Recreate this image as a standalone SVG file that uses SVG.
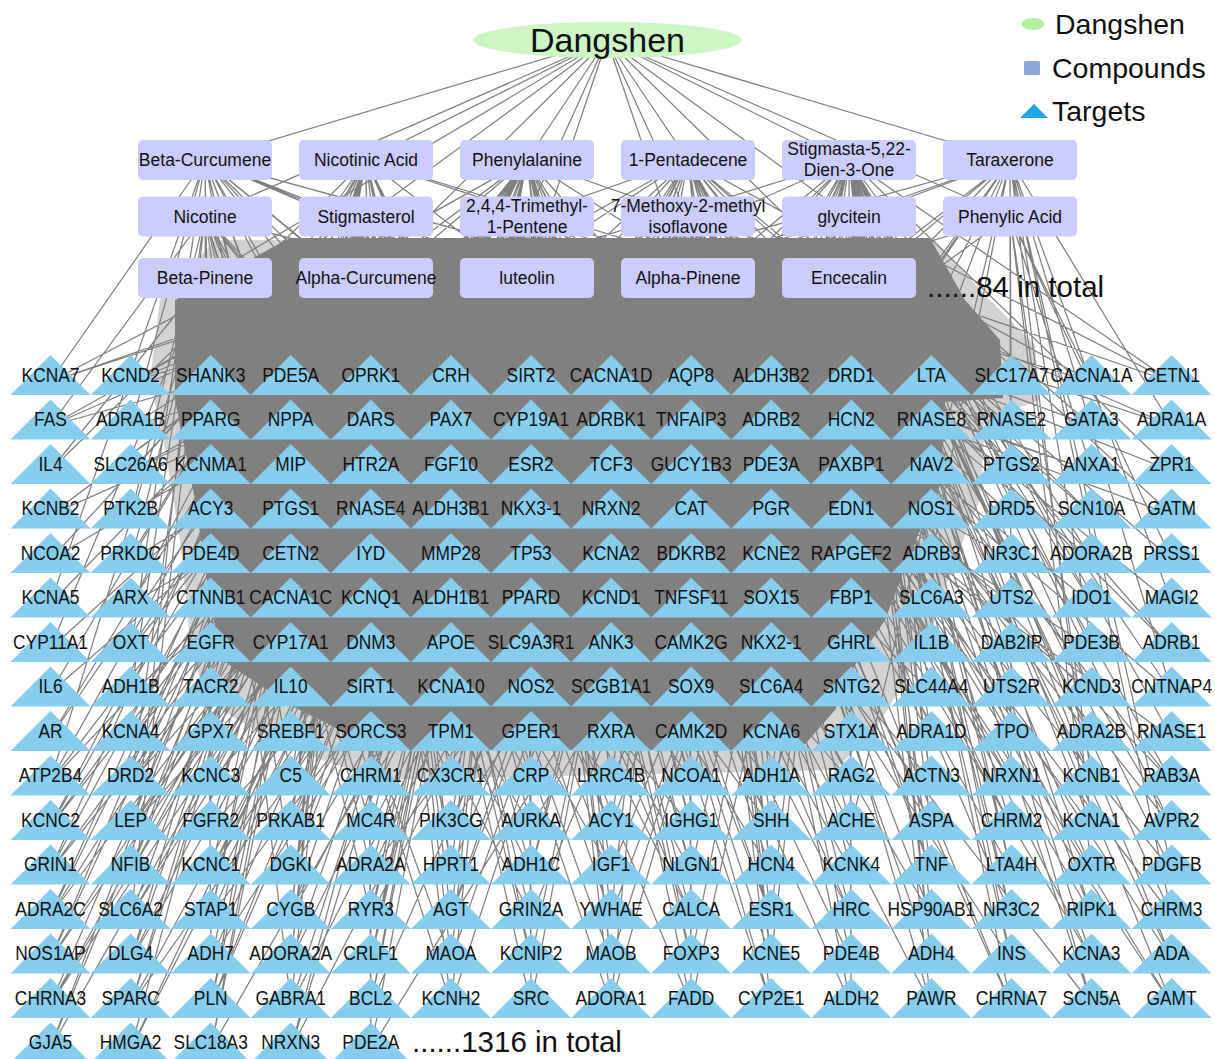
<svg xmlns="http://www.w3.org/2000/svg" xmlns:xlink="http://www.w3.org/1999/xlink" width="1215" height="1059" viewBox="0 0 1215 1059">
<defs>
<style>
text{font-family:"Liberation Sans",Arial,sans-serif;fill:#111}
.e{stroke:#808080;stroke-width:1.25;fill:none}
.core{fill:#808080}
.halo{fill:#808080;fill-opacity:.35}
.cp rect{fill:#ccccff}
.cp text{font-size:17.5px;text-anchor:middle}
.tg use{fill:#87cdee}
.tg text{font-size:19.5px;text-anchor:middle;transform:scaleX(.89)}
.big{font-size:29.5px}
.leg text{font-size:28.5px}
</style>
<path id="tri" d="M0 0L40 40H-40Z"/>
</defs>
<rect width="1215" height="1059" fill="#fff"/>
<g id="connectors">
<path class="halo" d="M160 300L215 240L935 240L985 295L1035 345L1040 400L985 420L980 500L955 560L935 620L905 680L875 730L835 770L380 780L280 745L205 700L190 640L180 540L165 450L150 380Z"/>
<path class="core" d="M175 300L290 238L930 238L965 300L1000 340L1003 398L945 402L940 485L920 530L900 580L885 620L855 665L835 710L800 750L380 750L290 705L222 660L210 600L195 500L175 400Z"/>
<path class="e" d="M607 40L205 160M607 40L366 160M607 40L527 160M607 40L688 160M607 40L849 160M607 40L1010 160M607 40L205 216M607 40L366 216M607 40L527 216M607 40L688 216M607 40L849 216M607 40L1010 216M607 40L205 278M607 40L366 278M607 40L527 278M607 40L688 278M607 40L849 278"/>
<path class="e" d="M205 160L50 382M366 216L50 382M366 278L50 382M527 160L131 382M527 216L131 382M366 160L211 382M527 278L211 382
M205 216L50 426M527 216L50 426M205 160L131 426M366 278L131 426M527 160L211 426M688 216L211 426
M205 278L50 471M366 160L50 471M366 216L131 471M527 278L131 471M366 278L211 471M688 160L211 471
M366 278L50 515M527 160L50 515M205 216L131 515M527 216L131 515M366 160L211 515M688 278L211 515
M366 216L50 560M527 278L50 560M205 278L131 560M688 216L131 560M527 278L211 560M527 160L211 560
M205 160L50 604M366 278L50 604M366 160L131 604M688 278L131 604M527 216L211 604M688 160L211 604
M527 216L50 649M205 278L50 649M366 278L131 649M527 160L131 649M366 216L211 649M688 278L211 649
M527 278L50 693M366 160L50 693M205 216L131 693M688 216L131 693M366 278L211 693M849 160L211 693
M366 278L50 738M366 216L50 738M527 278L131 738M527 160L131 738M205 278L211 738M527 216L211 738
M849 216L931 382M688 278L931 382M1010 160L1011 382M849 160L1011 382M688 160L1092 382M1010 216L1092 382M849 216L1172 382M849 160L1172 382
M849 278L931 426M688 216L931 426M1010 216L1011 426M688 160L1011 426M849 216L1092 426M527 216L1092 426M1010 160L1172 426M688 216L1172 426
M849 160L931 471M688 278L931 471M849 278L1011 471M527 160L1011 471M1010 216L1092 471M527 278L1092 471M849 160L1172 471M688 278L1172 471
M849 216L931 515M527 216L931 515M688 216L1011 515M1010 160L1011 515M849 278L1092 515M688 160L1092 515M849 216L1172 515M527 278L1172 515
M688 278L931 560M849 160L931 560M849 216L1011 560M527 278L1011 560M688 216L1092 560M849 160L1092 560M1010 216L1172 560M849 278L1172 560
M849 278L931 604M688 160L931 604M849 160L1011 604M527 216L1011 604M849 216L1092 604M688 278L1092 604M688 216L1172 604M1010 160L1172 604
M688 216L931 649M849 216L931 649M688 278L1011 649M1010 216L1011 649M527 278L1092 649M849 160L1092 649M849 278L1172 649M688 160L1172 649
M527 278L931 693M849 278L931 693M849 216L1011 693M688 216L1011 693M849 160L1092 693M527 216L1092 693M688 278L1172 693M849 216L1172 693
M849 160L931 738M688 278L931 738M688 160L1011 738M849 278L1011 738M688 216L1092 738M849 216L1092 738M527 278L1172 738M849 160L1172 738
M205 160L291 649M849 278L371 649M205 216L451 649M1010 160L531 649M366 160L611 649M205 278L691 649M527 160L771 649M366 216L851 649
M688 216L291 693M849 160L371 693M366 278L451 693M849 216L531 693M205 216L611 693M527 278L691 693M527 216L771 693M205 160L851 693
M1010 216L291 738M366 160L371 738M688 278L451 738M366 216L531 738M1010 160L611 738M205 216L691 738M366 278L771 738M688 160L851 738
M205 160L291 515M205 160L371 604M205 160L451 471M205 160L131 649M205 160L211 560M205 160L531 426M205 160L611 560M205 160L691 693
M366 160L211 649M366 160L291 471M366 160L451 604M366 160L531 515M366 160L611 693M366 160L131 560M366 160L771 471M366 160L371 515
M527 160L371 471M527 160L451 560M527 160L611 515M527 160L691 649M527 160L291 604M527 160L771 560M527 160L851 515M527 160L211 693
M688 160L531 560M688 160L611 426M688 160L771 649M688 160L851 604M688 160L451 515M688 160L931 471M688 160L371 693M688 160L1011 560
M849 160L691 515M849 160L771 426M849 160L931 649M849 160L611 604M849 160L1011 471M849 160L531 693M849 160L1092 604M849 160L451 560
M1010 160L851 471M1010 160L931 560M1010 160L771 515M1010 160L1092 649M1010 160L691 604M1010 160L611 471M1010 160L1172 693M1010 160L531 560
M366 216L50 782M527 278L50 782M527 160L50 782M205 278L131 782M527 216L131 782M688 160L131 782M205 160L211 782M366 278L211 782M688 216L211 782M527 278L291 782M205 216L291 782M527 160L291 782M527 216L371 782M366 160L371 782M688 278L371 782M366 278L451 782M688 160L451 782M205 216L451 782M366 216L531 782M688 278L531 782M205 160L531 782M527 160L611 782M205 278L611 782M849 216L611 782M527 278L691 782M849 160L691 782M527 216L691 782M688 216L771 782M366 278L771 782M1010 160L771 782M849 278L851 782M527 160L851 782M366 216L851 782M849 216L931 782M527 278L931 782M849 160L931 782M688 278L1011 782M1010 160L1011 782M688 216L1011 782M849 160L1092 782M1010 216L1092 782M849 278L1092 782M849 216L1172 782M688 160L1172 782M688 278L1172 782
M366 278L50 827M527 160L50 827M527 216L50 827M366 160L131 827M527 278L131 827M688 216L131 827M205 216L211 827M688 278L211 827M527 160L211 827M366 216L291 827M688 160L291 827M366 278L291 827M205 278L371 827M688 216L371 827M527 160L371 827M205 160L451 827M527 278L451 827M849 216L451 827M527 216L531 827M366 160L531 827M849 278L531 827M366 278L611 827M849 160L611 827M366 216L611 827M527 160L691 827M205 216L691 827M688 278L691 827M527 278L771 827M688 160L771 827M849 216L771 827M688 216L851 827M527 216L851 827M1010 160L851 827M688 278L931 827M849 160L931 827M527 160L931 827M849 278L1011 827M688 216L1011 827M688 160L1011 827M849 216L1092 827M1010 160L1092 827M688 278L1092 827M849 160L1172 827M849 278L1172 827M688 216L1172 827
M527 216L50 871M366 160L50 871M527 278L50 871M366 278L131 871M527 160L131 871M205 216L131 871M366 216L211 871M527 278L211 871M688 160L211 871M527 160L291 871M205 278L291 871M688 216L291 871M527 278L371 871M205 160L371 871M849 216L371 871M366 160L451 871M688 278L451 871M527 216L451 871M205 216L531 871M688 216L531 871M366 278L531 871M849 278L611 871M205 160L611 871M527 278L611 871M527 216L691 871M366 278L691 871M849 160L691 871M688 278L771 871M366 216L771 871M527 160L771 871M849 160L851 871M527 278L851 871M688 216L851 871M688 216L931 871M849 278L931 871M688 160L931 871M849 216L1011 871M849 160L1011 871M688 278L1011 871M849 278L1092 871M688 160L1092 871M1010 216L1092 871M688 278L1172 871M1010 160L1172 871M849 216L1172 871
M527 278L50 916M366 216L50 916M527 160L50 916M527 216L131 916M205 278L131 916M366 278L131 916M366 160L211 916M688 278L211 916M366 216L211 916M366 278L291 916M527 216L291 916M688 160L291 916M205 216L371 916M527 160L371 916M688 278L371 916M688 216L451 916M527 278L451 916M366 216L451 916M205 278L531 916M849 160L531 916M527 216L531 916M366 216L611 916M849 278L611 916M527 160L611 916M366 278L691 916M688 216L691 916M366 160L691 916M527 278L771 916M849 216L771 916M527 216L771 916M527 160L851 916M688 278L851 916M527 278L851 916M688 278L931 916M527 216L931 916M849 160L931 916M688 160L1011 916M849 278L1011 916M849 216L1011 916M849 160L1092 916M688 216L1092 916M849 278L1092 916M849 216L1172 916M688 278L1172 916M1010 160L1172 916
M366 216L50 960M527 216L50 960M366 278L50 960M527 278L131 960M527 160L131 960M366 160L131 960M688 216L211 960M366 278L211 960M205 216L211 960M527 278L291 960M366 216L291 960M688 160L291 960M527 160L371 960M366 278L371 960M527 216L371 960M688 278L451 960M205 278L451 960M366 216L451 960M366 160L531 960M527 278L531 960M688 216L531 960M527 216L611 960M849 216L611 960M366 278L611 960M849 160L691 960M527 278L691 960M527 160L691 960M527 216L771 960M688 278L771 960M688 160L771 960M527 278L851 960M849 278L851 960M688 216L851 960M688 278L931 960M849 216L931 960M849 160L931 960M849 278L1011 960M527 216L1011 960M849 160L1011 960M688 278L1092 960M849 216L1092 960M688 160L1092 960M849 278L1172 960M849 160L1172 960M688 216L1172 960
M366 278L50 1005M527 216L50 1005M527 160L50 1005M366 216L131 1005M527 278L131 1005M688 216L131 1005M527 216L211 1005M366 278L211 1005M366 160L211 1005M205 278L291 1005M527 278L291 1005M688 216L291 1005M527 216L371 1005M366 216L371 1005M527 160L371 1005M688 278L451 1005M366 278L451 1005M205 216L451 1005M527 278L531 1005M527 216L531 1005M688 160L531 1005M366 278L611 1005M688 216L611 1005M849 160L611 1005M527 216L691 1005M849 278L691 1005M366 216L691 1005M688 278L771 1005M527 160L771 1005M527 278L771 1005M688 216L851 1005M527 278L851 1005M849 216L851 1005M849 278L931 1005M527 216L931 1005M688 160L931 1005M688 278L1011 1005M849 216L1011 1005M688 216L1011 1005M849 278L1092 1005M849 160L1092 1005M527 278L1092 1005M849 216L1172 1005M688 278L1172 1005M688 216L1172 1005
M366 278L50 1049M366 216L50 1049M527 216L50 1049M527 278L131 1049M527 216L131 1049M366 160L131 1049M366 216L211 1049M688 216L211 1049M366 278L211 1049M527 278L291 1049M688 278L291 1049M527 160L291 1049M527 216L371 1049M366 278L371 1049M849 278L371 1049
M205 278L50 782M366 216L131 782M527 160L211 782M366 278L291 782M205 216L371 782M527 216L451 782M527 278L531 782M688 216L611 782M366 278L691 782M849 160L771 782
M366 216L50 827M527 216L131 827M366 278L211 827M527 278L291 827M366 160L371 827M688 216L451 827M205 278L531 827M688 278L611 827M527 216L691 827M366 278L771 827
M366 278L50 871M366 216L131 871M527 216L211 871M527 278L291 871M688 216L371 871M366 278L451 871M688 278L531 871M366 216L611 871M527 278L691 871M688 216L771 871
M366 278L50 916M527 278L131 916M527 216L211 916M366 216L291 916M527 278L371 916M688 278L451 916M366 278L531 916M688 216L611 916M527 278L691 916M688 278L771 916
M527 278L50 960M366 278L131 960M527 216L211 960M366 278L291 960M527 278L371 960M527 216L451 960M366 278L531 960M527 278L611 960M688 216L691 960M849 278L771 960
M527 278L50 1005M366 278L131 1005M527 278L211 1005M366 278L291 1005M688 278L371 1005M527 278L451 1005M366 278L531 1005M527 278L611 1005M688 278L691 1005
M205 160L1011 382M205 160L931 471M205 160L851 426M366 160L1092 382M366 160L1172 426M527 160L1172 382M527 160L50 426M688 160L50 382M688 160L131 471M849 160L131 382M849 160L50 515M1010 160L211 382M1010 160L291 426M1010 160L50 426M205 216L1011 426M366 216L1092 471M849 216L131 426M1010 216L211 471M205 160L771 382M1010 160L371 382"/>
</g>
<g id="compounds" class="cp">
<g id="c-Beta-Curcumene" transform="translate(205 160)"><rect x="-67" y="-20" width="134" height="40" rx="5"/><text y="6">Beta-Curcumene</text></g>
<g id="c-Nicotinic-Acid" transform="translate(366 160)"><rect x="-67" y="-20" width="134" height="40" rx="5"/><text y="6">Nicotinic Acid</text></g>
<g id="c-Phenylalanine" transform="translate(527 160)"><rect x="-67" y="-20" width="134" height="40" rx="5"/><text y="6">Phenylalanine</text></g>
<g id="c-1-Pentadecene" transform="translate(688 160)"><rect x="-67" y="-20" width="134" height="40" rx="5"/><text y="6">1-Pentadecene</text></g>
<g id="c-Stigmasta" transform="translate(849 160)"><rect x="-67" y="-20" width="134" height="40" rx="5"/><text y="-5">Stigmasta-5,22-</text><text y="16">Dien-3-One</text></g>
<g id="c-Taraxerone" transform="translate(1010 160)"><rect x="-67" y="-20" width="134" height="40" rx="5"/><text y="6">Taraxerone</text></g>
<g id="c-Nicotine" transform="translate(205 216.5)"><rect x="-67" y="-20" width="134" height="40" rx="5"/><text y="6">Nicotine</text></g>
<g id="c-Stigmasterol" transform="translate(366 216.5)"><rect x="-67" y="-20" width="134" height="40" rx="5"/><text y="6">Stigmasterol</text></g>
<g id="c-Trimethylpentene" transform="translate(527 216.5)"><rect x="-67" y="-20" width="134" height="40" rx="5"/><text y="-5">2,4,4-Trimethyl-</text><text y="16">1-Pentene</text></g>
<g id="c-Methoxyisoflavone" transform="translate(688 216.5)"><rect x="-67" y="-20" width="134" height="40" rx="5"/><text y="-5">7-Methoxy-2-methyl</text><text y="16">isoflavone</text></g>
<g id="c-glycitein" transform="translate(849 216.5)"><rect x="-67" y="-20" width="134" height="40" rx="5"/><text y="6">glycitein</text></g>
<g id="c-Phenylic-Acid" transform="translate(1010 216.5)"><rect x="-67" y="-20" width="134" height="40" rx="5"/><text y="6">Phenylic Acid</text></g>
<g id="c-Beta-Pinene" transform="translate(205 278)"><rect x="-67" y="-20" width="134" height="40" rx="5"/><text y="6">Beta-Pinene</text></g>
<g id="c-Alpha-Curcumene" transform="translate(366 278)"><rect x="-67" y="-20" width="134" height="40" rx="5"/><text y="6">Alpha-Curcumene</text></g>
<g id="c-luteolin" transform="translate(527 278)"><rect x="-67" y="-20" width="134" height="40" rx="5"/><text y="6">luteolin</text></g>
<g id="c-Alpha-Pinene" transform="translate(688 278)"><rect x="-67" y="-20" width="134" height="40" rx="5"/><text y="6">Alpha-Pinene</text></g>
<g id="c-Encecalin" transform="translate(849 278)"><rect x="-67" y="-20" width="134" height="40" rx="5"/><text y="6">Encecalin</text></g>
</g>
<text class="big" x="927" y="297">......84 in total</text>
<g id="targets" class="tg">
<g id="t-KCNA7" transform="translate(50.5 355)"><use href="#tri"/><text y="27">KCNA7</text></g>
<g id="t-KCND2" transform="translate(130.6 355)"><use href="#tri"/><text y="27">KCND2</text></g>
<g id="t-SHANK3" transform="translate(210.7 355)"><use href="#tri"/><text y="27">SHANK3</text></g>
<g id="t-PDE5A" transform="translate(290.7 355)"><use href="#tri"/><text y="27">PDE5A</text></g>
<g id="t-OPRK1" transform="translate(370.8 355)"><use href="#tri"/><text y="27">OPRK1</text></g>
<g id="t-CRH" transform="translate(450.9 355)"><use href="#tri"/><text y="27">CRH</text></g>
<g id="t-SIRT2" transform="translate(531 355)"><use href="#tri"/><text y="27">SIRT2</text></g>
<g id="t-CACNA1D" transform="translate(611.1 355)"><use href="#tri"/><text y="27">CACNA1D</text></g>
<g id="t-AQP8" transform="translate(691.1 355)"><use href="#tri"/><text y="27">AQP8</text></g>
<g id="t-ALDH3B2" transform="translate(771.2 355)"><use href="#tri"/><text y="27">ALDH3B2</text></g>
<g id="t-DRD1" transform="translate(851.3 355)"><use href="#tri"/><text y="27">DRD1</text></g>
<g id="t-LTA" transform="translate(931.4 355)"><use href="#tri"/><text y="27">LTA</text></g>
<g id="t-SLC17A7" transform="translate(1011.5 355)"><use href="#tri"/><text y="27">SLC17A7</text></g>
<g id="t-CACNA1A" transform="translate(1091.5 355)"><use href="#tri"/><text y="27">CACNA1A</text></g>
<g id="t-CETN1" transform="translate(1171.6 355)"><use href="#tri"/><text y="27">CETN1</text></g>
<g id="t-FAS" transform="translate(50.5 399.5)"><use href="#tri"/><text y="27">FAS</text></g>
<g id="t-ADRA1B" transform="translate(130.6 399.5)"><use href="#tri"/><text y="27">ADRA1B</text></g>
<g id="t-PPARG" transform="translate(210.7 399.5)"><use href="#tri"/><text y="27">PPARG</text></g>
<g id="t-NPPA" transform="translate(290.7 399.5)"><use href="#tri"/><text y="27">NPPA</text></g>
<g id="t-DARS" transform="translate(370.8 399.5)"><use href="#tri"/><text y="27">DARS</text></g>
<g id="t-PAX7" transform="translate(450.9 399.5)"><use href="#tri"/><text y="27">PAX7</text></g>
<g id="t-CYP19A1" transform="translate(531 399.5)"><use href="#tri"/><text y="27">CYP19A1</text></g>
<g id="t-ADRBK1" transform="translate(611.1 399.5)"><use href="#tri"/><text y="27">ADRBK1</text></g>
<g id="t-TNFAIP3" transform="translate(691.1 399.5)"><use href="#tri"/><text y="27">TNFAIP3</text></g>
<g id="t-ADRB2" transform="translate(771.2 399.5)"><use href="#tri"/><text y="27">ADRB2</text></g>
<g id="t-HCN2" transform="translate(851.3 399.5)"><use href="#tri"/><text y="27">HCN2</text></g>
<g id="t-RNASE8" transform="translate(931.4 399.5)"><use href="#tri"/><text y="27">RNASE8</text></g>
<g id="t-RNASE2" transform="translate(1011.5 399.5)"><use href="#tri"/><text y="27">RNASE2</text></g>
<g id="t-GATA3" transform="translate(1091.5 399.5)"><use href="#tri"/><text y="27">GATA3</text></g>
<g id="t-ADRA1A" transform="translate(1171.6 399.5)"><use href="#tri"/><text y="27">ADRA1A</text></g>
<g id="t-IL4" transform="translate(50.5 444)"><use href="#tri"/><text y="27">IL4</text></g>
<g id="t-SLC26A6" transform="translate(130.6 444)"><use href="#tri"/><text y="27">SLC26A6</text></g>
<g id="t-KCNMA1" transform="translate(210.7 444)"><use href="#tri"/><text y="27">KCNMA1</text></g>
<g id="t-MIP" transform="translate(290.7 444)"><use href="#tri"/><text y="27">MIP</text></g>
<g id="t-HTR2A" transform="translate(370.8 444)"><use href="#tri"/><text y="27">HTR2A</text></g>
<g id="t-FGF10" transform="translate(450.9 444)"><use href="#tri"/><text y="27">FGF10</text></g>
<g id="t-ESR2" transform="translate(531 444)"><use href="#tri"/><text y="27">ESR2</text></g>
<g id="t-TCF3" transform="translate(611.1 444)"><use href="#tri"/><text y="27">TCF3</text></g>
<g id="t-GUCY1B3" transform="translate(691.1 444)"><use href="#tri"/><text y="27">GUCY1B3</text></g>
<g id="t-PDE3A" transform="translate(771.2 444)"><use href="#tri"/><text y="27">PDE3A</text></g>
<g id="t-PAXBP1" transform="translate(851.3 444)"><use href="#tri"/><text y="27">PAXBP1</text></g>
<g id="t-NAV2" transform="translate(931.4 444)"><use href="#tri"/><text y="27">NAV2</text></g>
<g id="t-PTGS2" transform="translate(1011.5 444)"><use href="#tri"/><text y="27">PTGS2</text></g>
<g id="t-ANXA1" transform="translate(1091.5 444)"><use href="#tri"/><text y="27">ANXA1</text></g>
<g id="t-ZPR1" transform="translate(1171.6 444)"><use href="#tri"/><text y="27">ZPR1</text></g>
<g id="t-KCNB2" transform="translate(50.5 488.5)"><use href="#tri"/><text y="27">KCNB2</text></g>
<g id="t-PTK2B" transform="translate(130.6 488.5)"><use href="#tri"/><text y="27">PTK2B</text></g>
<g id="t-ACY3" transform="translate(210.7 488.5)"><use href="#tri"/><text y="27">ACY3</text></g>
<g id="t-PTGS1" transform="translate(290.7 488.5)"><use href="#tri"/><text y="27">PTGS1</text></g>
<g id="t-RNASE4" transform="translate(370.8 488.5)"><use href="#tri"/><text y="27">RNASE4</text></g>
<g id="t-ALDH3B1" transform="translate(450.9 488.5)"><use href="#tri"/><text y="27">ALDH3B1</text></g>
<g id="t-NKX3-1" transform="translate(531 488.5)"><use href="#tri"/><text y="27">NKX3-1</text></g>
<g id="t-NRXN2" transform="translate(611.1 488.5)"><use href="#tri"/><text y="27">NRXN2</text></g>
<g id="t-CAT" transform="translate(691.1 488.5)"><use href="#tri"/><text y="27">CAT</text></g>
<g id="t-PGR" transform="translate(771.2 488.5)"><use href="#tri"/><text y="27">PGR</text></g>
<g id="t-EDN1" transform="translate(851.3 488.5)"><use href="#tri"/><text y="27">EDN1</text></g>
<g id="t-NOS1" transform="translate(931.4 488.5)"><use href="#tri"/><text y="27">NOS1</text></g>
<g id="t-DRD5" transform="translate(1011.5 488.5)"><use href="#tri"/><text y="27">DRD5</text></g>
<g id="t-SCN10A" transform="translate(1091.5 488.5)"><use href="#tri"/><text y="27">SCN10A</text></g>
<g id="t-GATM" transform="translate(1171.6 488.5)"><use href="#tri"/><text y="27">GATM</text></g>
<g id="t-NCOA2" transform="translate(50.5 533)"><use href="#tri"/><text y="27">NCOA2</text></g>
<g id="t-PRKDC" transform="translate(130.6 533)"><use href="#tri"/><text y="27">PRKDC</text></g>
<g id="t-PDE4D" transform="translate(210.7 533)"><use href="#tri"/><text y="27">PDE4D</text></g>
<g id="t-CETN2" transform="translate(290.7 533)"><use href="#tri"/><text y="27">CETN2</text></g>
<g id="t-IYD" transform="translate(370.8 533)"><use href="#tri"/><text y="27">IYD</text></g>
<g id="t-MMP28" transform="translate(450.9 533)"><use href="#tri"/><text y="27">MMP28</text></g>
<g id="t-TP53" transform="translate(531 533)"><use href="#tri"/><text y="27">TP53</text></g>
<g id="t-KCNA2" transform="translate(611.1 533)"><use href="#tri"/><text y="27">KCNA2</text></g>
<g id="t-BDKRB2" transform="translate(691.1 533)"><use href="#tri"/><text y="27">BDKRB2</text></g>
<g id="t-KCNE2" transform="translate(771.2 533)"><use href="#tri"/><text y="27">KCNE2</text></g>
<g id="t-RAPGEF2" transform="translate(851.3 533)"><use href="#tri"/><text y="27">RAPGEF2</text></g>
<g id="t-ADRB3" transform="translate(931.4 533)"><use href="#tri"/><text y="27">ADRB3</text></g>
<g id="t-NR3C1" transform="translate(1011.5 533)"><use href="#tri"/><text y="27">NR3C1</text></g>
<g id="t-ADORA2B" transform="translate(1091.5 533)"><use href="#tri"/><text y="27">ADORA2B</text></g>
<g id="t-PRSS1" transform="translate(1171.6 533)"><use href="#tri"/><text y="27">PRSS1</text></g>
<g id="t-KCNA5" transform="translate(50.5 577.5)"><use href="#tri"/><text y="27">KCNA5</text></g>
<g id="t-ARX" transform="translate(130.6 577.5)"><use href="#tri"/><text y="27">ARX</text></g>
<g id="t-CTNNB1" transform="translate(210.7 577.5)"><use href="#tri"/><text y="27">CTNNB1</text></g>
<g id="t-CACNA1C" transform="translate(290.7 577.5)"><use href="#tri"/><text y="27">CACNA1C</text></g>
<g id="t-KCNQ1" transform="translate(370.8 577.5)"><use href="#tri"/><text y="27">KCNQ1</text></g>
<g id="t-ALDH1B1" transform="translate(450.9 577.5)"><use href="#tri"/><text y="27">ALDH1B1</text></g>
<g id="t-PPARD" transform="translate(531 577.5)"><use href="#tri"/><text y="27">PPARD</text></g>
<g id="t-KCND1" transform="translate(611.1 577.5)"><use href="#tri"/><text y="27">KCND1</text></g>
<g id="t-TNFSF11" transform="translate(691.1 577.5)"><use href="#tri"/><text y="27">TNFSF11</text></g>
<g id="t-SOX15" transform="translate(771.2 577.5)"><use href="#tri"/><text y="27">SOX15</text></g>
<g id="t-FBP1" transform="translate(851.3 577.5)"><use href="#tri"/><text y="27">FBP1</text></g>
<g id="t-SLC6A3" transform="translate(931.4 577.5)"><use href="#tri"/><text y="27">SLC6A3</text></g>
<g id="t-UTS2" transform="translate(1011.5 577.5)"><use href="#tri"/><text y="27">UTS2</text></g>
<g id="t-IDO1" transform="translate(1091.5 577.5)"><use href="#tri"/><text y="27">IDO1</text></g>
<g id="t-MAGI2" transform="translate(1171.6 577.5)"><use href="#tri"/><text y="27">MAGI2</text></g>
<g id="t-CYP11A1" transform="translate(50.5 622)"><use href="#tri"/><text y="27">CYP11A1</text></g>
<g id="t-OXT" transform="translate(130.6 622)"><use href="#tri"/><text y="27">OXT</text></g>
<g id="t-EGFR" transform="translate(210.7 622)"><use href="#tri"/><text y="27">EGFR</text></g>
<g id="t-CYP17A1" transform="translate(290.7 622)"><use href="#tri"/><text y="27">CYP17A1</text></g>
<g id="t-DNM3" transform="translate(370.8 622)"><use href="#tri"/><text y="27">DNM3</text></g>
<g id="t-APOE" transform="translate(450.9 622)"><use href="#tri"/><text y="27">APOE</text></g>
<g id="t-SLC9A3R1" transform="translate(531 622)"><use href="#tri"/><text y="27">SLC9A3R1</text></g>
<g id="t-ANK3" transform="translate(611.1 622)"><use href="#tri"/><text y="27">ANK3</text></g>
<g id="t-CAMK2G" transform="translate(691.1 622)"><use href="#tri"/><text y="27">CAMK2G</text></g>
<g id="t-NKX2-1" transform="translate(771.2 622)"><use href="#tri"/><text y="27">NKX2-1</text></g>
<g id="t-GHRL" transform="translate(851.3 622)"><use href="#tri"/><text y="27">GHRL</text></g>
<g id="t-IL1B" transform="translate(931.4 622)"><use href="#tri"/><text y="27">IL1B</text></g>
<g id="t-DAB2IP" transform="translate(1011.5 622)"><use href="#tri"/><text y="27">DAB2IP</text></g>
<g id="t-PDE3B" transform="translate(1091.5 622)"><use href="#tri"/><text y="27">PDE3B</text></g>
<g id="t-ADRB1" transform="translate(1171.6 622)"><use href="#tri"/><text y="27">ADRB1</text></g>
<g id="t-IL6" transform="translate(50.5 666.5)"><use href="#tri"/><text y="27">IL6</text></g>
<g id="t-ADH1B" transform="translate(130.6 666.5)"><use href="#tri"/><text y="27">ADH1B</text></g>
<g id="t-TACR2" transform="translate(210.7 666.5)"><use href="#tri"/><text y="27">TACR2</text></g>
<g id="t-IL10" transform="translate(290.7 666.5)"><use href="#tri"/><text y="27">IL10</text></g>
<g id="t-SIRT1" transform="translate(370.8 666.5)"><use href="#tri"/><text y="27">SIRT1</text></g>
<g id="t-KCNA10" transform="translate(450.9 666.5)"><use href="#tri"/><text y="27">KCNA10</text></g>
<g id="t-NOS2" transform="translate(531 666.5)"><use href="#tri"/><text y="27">NOS2</text></g>
<g id="t-SCGB1A1" transform="translate(611.1 666.5)"><use href="#tri"/><text y="27">SCGB1A1</text></g>
<g id="t-SOX9" transform="translate(691.1 666.5)"><use href="#tri"/><text y="27">SOX9</text></g>
<g id="t-SLC6A4" transform="translate(771.2 666.5)"><use href="#tri"/><text y="27">SLC6A4</text></g>
<g id="t-SNTG2" transform="translate(851.3 666.5)"><use href="#tri"/><text y="27">SNTG2</text></g>
<g id="t-SLC44A4" transform="translate(931.4 666.5)"><use href="#tri"/><text y="27">SLC44A4</text></g>
<g id="t-UTS2R" transform="translate(1011.5 666.5)"><use href="#tri"/><text y="27">UTS2R</text></g>
<g id="t-KCND3" transform="translate(1091.5 666.5)"><use href="#tri"/><text y="27">KCND3</text></g>
<g id="t-CNTNAP4" transform="translate(1171.6 666.5)"><use href="#tri"/><text y="27">CNTNAP4</text></g>
<g id="t-AR" transform="translate(50.5 711)"><use href="#tri"/><text y="27">AR</text></g>
<g id="t-KCNA4" transform="translate(130.6 711)"><use href="#tri"/><text y="27">KCNA4</text></g>
<g id="t-GPX7" transform="translate(210.7 711)"><use href="#tri"/><text y="27">GPX7</text></g>
<g id="t-SREBF1" transform="translate(290.7 711)"><use href="#tri"/><text y="27">SREBF1</text></g>
<g id="t-SORCS3" transform="translate(370.8 711)"><use href="#tri"/><text y="27">SORCS3</text></g>
<g id="t-TPM1" transform="translate(450.9 711)"><use href="#tri"/><text y="27">TPM1</text></g>
<g id="t-GPER1" transform="translate(531 711)"><use href="#tri"/><text y="27">GPER1</text></g>
<g id="t-RXRA" transform="translate(611.1 711)"><use href="#tri"/><text y="27">RXRA</text></g>
<g id="t-CAMK2D" transform="translate(691.1 711)"><use href="#tri"/><text y="27">CAMK2D</text></g>
<g id="t-KCNA6" transform="translate(771.2 711)"><use href="#tri"/><text y="27">KCNA6</text></g>
<g id="t-STX1A" transform="translate(851.3 711)"><use href="#tri"/><text y="27">STX1A</text></g>
<g id="t-ADRA1D" transform="translate(931.4 711)"><use href="#tri"/><text y="27">ADRA1D</text></g>
<g id="t-TPO" transform="translate(1011.5 711)"><use href="#tri"/><text y="27">TPO</text></g>
<g id="t-ADRA2B" transform="translate(1091.5 711)"><use href="#tri"/><text y="27">ADRA2B</text></g>
<g id="t-RNASE1" transform="translate(1171.6 711)"><use href="#tri"/><text y="27">RNASE1</text></g>
<g id="t-ATP2B4" transform="translate(50.5 755.5)"><use href="#tri"/><text y="27">ATP2B4</text></g>
<g id="t-DRD2" transform="translate(130.6 755.5)"><use href="#tri"/><text y="27">DRD2</text></g>
<g id="t-KCNC3" transform="translate(210.7 755.5)"><use href="#tri"/><text y="27">KCNC3</text></g>
<g id="t-C5" transform="translate(290.7 755.5)"><use href="#tri"/><text y="27">C5</text></g>
<g id="t-CHRM1" transform="translate(370.8 755.5)"><use href="#tri"/><text y="27">CHRM1</text></g>
<g id="t-CX3CR1" transform="translate(450.9 755.5)"><use href="#tri"/><text y="27">CX3CR1</text></g>
<g id="t-CRP" transform="translate(531 755.5)"><use href="#tri"/><text y="27">CRP</text></g>
<g id="t-LRRC4B" transform="translate(611.1 755.5)"><use href="#tri"/><text y="27">LRRC4B</text></g>
<g id="t-NCOA1" transform="translate(691.1 755.5)"><use href="#tri"/><text y="27">NCOA1</text></g>
<g id="t-ADH1A" transform="translate(771.2 755.5)"><use href="#tri"/><text y="27">ADH1A</text></g>
<g id="t-RAG2" transform="translate(851.3 755.5)"><use href="#tri"/><text y="27">RAG2</text></g>
<g id="t-ACTN3" transform="translate(931.4 755.5)"><use href="#tri"/><text y="27">ACTN3</text></g>
<g id="t-NRXN1" transform="translate(1011.5 755.5)"><use href="#tri"/><text y="27">NRXN1</text></g>
<g id="t-KCNB1" transform="translate(1091.5 755.5)"><use href="#tri"/><text y="27">KCNB1</text></g>
<g id="t-RAB3A" transform="translate(1171.6 755.5)"><use href="#tri"/><text y="27">RAB3A</text></g>
<g id="t-KCNC2" transform="translate(50.5 800)"><use href="#tri"/><text y="27">KCNC2</text></g>
<g id="t-LEP" transform="translate(130.6 800)"><use href="#tri"/><text y="27">LEP</text></g>
<g id="t-FGFR2" transform="translate(210.7 800)"><use href="#tri"/><text y="27">FGFR2</text></g>
<g id="t-PRKAB1" transform="translate(290.7 800)"><use href="#tri"/><text y="27">PRKAB1</text></g>
<g id="t-MC4R" transform="translate(370.8 800)"><use href="#tri"/><text y="27">MC4R</text></g>
<g id="t-PIK3CG" transform="translate(450.9 800)"><use href="#tri"/><text y="27">PIK3CG</text></g>
<g id="t-AURKA" transform="translate(531 800)"><use href="#tri"/><text y="27">AURKA</text></g>
<g id="t-ACY1" transform="translate(611.1 800)"><use href="#tri"/><text y="27">ACY1</text></g>
<g id="t-IGHG1" transform="translate(691.1 800)"><use href="#tri"/><text y="27">IGHG1</text></g>
<g id="t-SHH" transform="translate(771.2 800)"><use href="#tri"/><text y="27">SHH</text></g>
<g id="t-ACHE" transform="translate(851.3 800)"><use href="#tri"/><text y="27">ACHE</text></g>
<g id="t-ASPA" transform="translate(931.4 800)"><use href="#tri"/><text y="27">ASPA</text></g>
<g id="t-CHRM2" transform="translate(1011.5 800)"><use href="#tri"/><text y="27">CHRM2</text></g>
<g id="t-KCNA1" transform="translate(1091.5 800)"><use href="#tri"/><text y="27">KCNA1</text></g>
<g id="t-AVPR2" transform="translate(1171.6 800)"><use href="#tri"/><text y="27">AVPR2</text></g>
<g id="t-GRIN1" transform="translate(50.5 844.5)"><use href="#tri"/><text y="27">GRIN1</text></g>
<g id="t-NFIB" transform="translate(130.6 844.5)"><use href="#tri"/><text y="27">NFIB</text></g>
<g id="t-KCNC1" transform="translate(210.7 844.5)"><use href="#tri"/><text y="27">KCNC1</text></g>
<g id="t-DGKI" transform="translate(290.7 844.5)"><use href="#tri"/><text y="27">DGKI</text></g>
<g id="t-ADRA2A" transform="translate(370.8 844.5)"><use href="#tri"/><text y="27">ADRA2A</text></g>
<g id="t-HPRT1" transform="translate(450.9 844.5)"><use href="#tri"/><text y="27">HPRT1</text></g>
<g id="t-ADH1C" transform="translate(531 844.5)"><use href="#tri"/><text y="27">ADH1C</text></g>
<g id="t-IGF1" transform="translate(611.1 844.5)"><use href="#tri"/><text y="27">IGF1</text></g>
<g id="t-NLGN1" transform="translate(691.1 844.5)"><use href="#tri"/><text y="27">NLGN1</text></g>
<g id="t-HCN4" transform="translate(771.2 844.5)"><use href="#tri"/><text y="27">HCN4</text></g>
<g id="t-KCNK4" transform="translate(851.3 844.5)"><use href="#tri"/><text y="27">KCNK4</text></g>
<g id="t-TNF" transform="translate(931.4 844.5)"><use href="#tri"/><text y="27">TNF</text></g>
<g id="t-LTA4H" transform="translate(1011.5 844.5)"><use href="#tri"/><text y="27">LTA4H</text></g>
<g id="t-OXTR" transform="translate(1091.5 844.5)"><use href="#tri"/><text y="27">OXTR</text></g>
<g id="t-PDGFB" transform="translate(1171.6 844.5)"><use href="#tri"/><text y="27">PDGFB</text></g>
<g id="t-ADRA2C" transform="translate(50.5 889)"><use href="#tri"/><text y="27">ADRA2C</text></g>
<g id="t-SLC6A2" transform="translate(130.6 889)"><use href="#tri"/><text y="27">SLC6A2</text></g>
<g id="t-STAP1" transform="translate(210.7 889)"><use href="#tri"/><text y="27">STAP1</text></g>
<g id="t-CYGB" transform="translate(290.7 889)"><use href="#tri"/><text y="27">CYGB</text></g>
<g id="t-RYR3" transform="translate(370.8 889)"><use href="#tri"/><text y="27">RYR3</text></g>
<g id="t-AGT" transform="translate(450.9 889)"><use href="#tri"/><text y="27">AGT</text></g>
<g id="t-GRIN2A" transform="translate(531 889)"><use href="#tri"/><text y="27">GRIN2A</text></g>
<g id="t-YWHAE" transform="translate(611.1 889)"><use href="#tri"/><text y="27">YWHAE</text></g>
<g id="t-CALCA" transform="translate(691.1 889)"><use href="#tri"/><text y="27">CALCA</text></g>
<g id="t-ESR1" transform="translate(771.2 889)"><use href="#tri"/><text y="27">ESR1</text></g>
<g id="t-HRC" transform="translate(851.3 889)"><use href="#tri"/><text y="27">HRC</text></g>
<g id="t-HSP90AB1" transform="translate(931.4 889)"><use href="#tri"/><text y="27">HSP90AB1</text></g>
<g id="t-NR3C2" transform="translate(1011.5 889)"><use href="#tri"/><text y="27">NR3C2</text></g>
<g id="t-RIPK1" transform="translate(1091.5 889)"><use href="#tri"/><text y="27">RIPK1</text></g>
<g id="t-CHRM3" transform="translate(1171.6 889)"><use href="#tri"/><text y="27">CHRM3</text></g>
<g id="t-NOS1AP" transform="translate(50.5 933.5)"><use href="#tri"/><text y="27">NOS1AP</text></g>
<g id="t-DLG4" transform="translate(130.6 933.5)"><use href="#tri"/><text y="27">DLG4</text></g>
<g id="t-ADH7" transform="translate(210.7 933.5)"><use href="#tri"/><text y="27">ADH7</text></g>
<g id="t-ADORA2A" transform="translate(290.7 933.5)"><use href="#tri"/><text y="27">ADORA2A</text></g>
<g id="t-CRLF1" transform="translate(370.8 933.5)"><use href="#tri"/><text y="27">CRLF1</text></g>
<g id="t-MAOA" transform="translate(450.9 933.5)"><use href="#tri"/><text y="27">MAOA</text></g>
<g id="t-KCNIP2" transform="translate(531 933.5)"><use href="#tri"/><text y="27">KCNIP2</text></g>
<g id="t-MAOB" transform="translate(611.1 933.5)"><use href="#tri"/><text y="27">MAOB</text></g>
<g id="t-FOXP3" transform="translate(691.1 933.5)"><use href="#tri"/><text y="27">FOXP3</text></g>
<g id="t-KCNE5" transform="translate(771.2 933.5)"><use href="#tri"/><text y="27">KCNE5</text></g>
<g id="t-PDE4B" transform="translate(851.3 933.5)"><use href="#tri"/><text y="27">PDE4B</text></g>
<g id="t-ADH4" transform="translate(931.4 933.5)"><use href="#tri"/><text y="27">ADH4</text></g>
<g id="t-INS" transform="translate(1011.5 933.5)"><use href="#tri"/><text y="27">INS</text></g>
<g id="t-KCNA3" transform="translate(1091.5 933.5)"><use href="#tri"/><text y="27">KCNA3</text></g>
<g id="t-ADA" transform="translate(1171.6 933.5)"><use href="#tri"/><text y="27">ADA</text></g>
<g id="t-CHRNA3" transform="translate(50.5 978)"><use href="#tri"/><text y="27">CHRNA3</text></g>
<g id="t-SPARC" transform="translate(130.6 978)"><use href="#tri"/><text y="27">SPARC</text></g>
<g id="t-PLN" transform="translate(210.7 978)"><use href="#tri"/><text y="27">PLN</text></g>
<g id="t-GABRA1" transform="translate(290.7 978)"><use href="#tri"/><text y="27">GABRA1</text></g>
<g id="t-BCL2" transform="translate(370.8 978)"><use href="#tri"/><text y="27">BCL2</text></g>
<g id="t-KCNH2" transform="translate(450.9 978)"><use href="#tri"/><text y="27">KCNH2</text></g>
<g id="t-SRC" transform="translate(531 978)"><use href="#tri"/><text y="27">SRC</text></g>
<g id="t-ADORA1" transform="translate(611.1 978)"><use href="#tri"/><text y="27">ADORA1</text></g>
<g id="t-FADD" transform="translate(691.1 978)"><use href="#tri"/><text y="27">FADD</text></g>
<g id="t-CYP2E1" transform="translate(771.2 978)"><use href="#tri"/><text y="27">CYP2E1</text></g>
<g id="t-ALDH2" transform="translate(851.3 978)"><use href="#tri"/><text y="27">ALDH2</text></g>
<g id="t-PAWR" transform="translate(931.4 978)"><use href="#tri"/><text y="27">PAWR</text></g>
<g id="t-CHRNA7" transform="translate(1011.5 978)"><use href="#tri"/><text y="27">CHRNA7</text></g>
<g id="t-SCN5A" transform="translate(1091.5 978)"><use href="#tri"/><text y="27">SCN5A</text></g>
<g id="t-GAMT" transform="translate(1171.6 978)"><use href="#tri"/><text y="27">GAMT</text></g>
<g id="t-GJA5" transform="translate(50.5 1022.5)"><use href="#tri"/><text y="27">GJA5</text></g>
<g id="t-HMGA2" transform="translate(130.6 1022.5)"><use href="#tri"/><text y="27">HMGA2</text></g>
<g id="t-SLC18A3" transform="translate(210.7 1022.5)"><use href="#tri"/><text y="27">SLC18A3</text></g>
<g id="t-NRXN3" transform="translate(290.7 1022.5)"><use href="#tri"/><text y="27">NRXN3</text></g>
<g id="t-PDE2A" transform="translate(370.8 1022.5)"><use href="#tri"/><text y="27">PDE2A</text></g>
</g>
<text class="big" x="412" y="1052">......1316 in total</text>
<g id="dangshen">
<ellipse cx="607.5" cy="40" rx="134.5" ry="18" fill="#ccf7c4"/>
<text x="607.5" y="52" font-size="34" text-anchor="middle">Dangshen</text>
</g>
<g id="legend" class="leg">
<ellipse cx="1033" cy="24" rx="11.5" ry="6" fill="#b4f09c"/>
<text x="1055" y="34">Dangshen</text>
<rect x="1024" y="61" width="16" height="14" rx="1.5" fill="#8fa8dc"/>
<text x="1052" y="78">Compounds</text>
<path d="M1034 104L1048 118H1020Z" fill="#1fa7e8"/>
<text x="1052" y="121">Targets</text>
</g>
</svg>
